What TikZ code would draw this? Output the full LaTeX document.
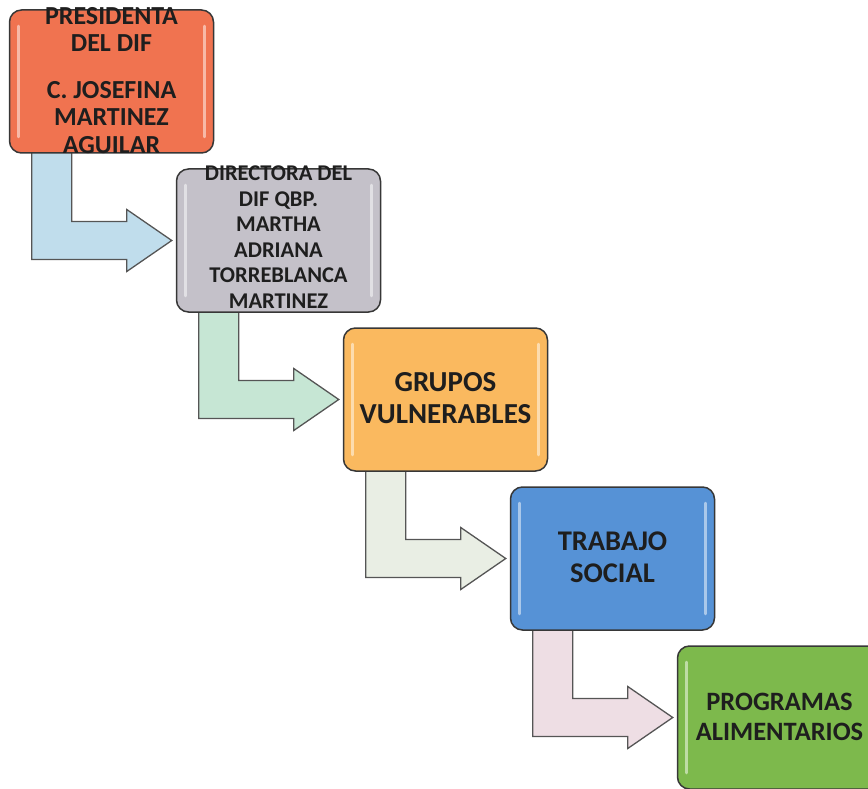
\documentclass[tikz,border=0pt]{standalone}
\usepackage{fontspec}
\setmainfont{Carlito}
\usetikzlibrary{calc}
\usetikzlibrary{backgrounds}

\definecolor{presred}{RGB}{240,115,80}
\definecolor{dirgray}{RGB}{196,193,201}
\definecolor{grupoorange}{RGB}{250,185,95}
\definecolor{trabblue}{RGB}{86,146,214}
\definecolor{proggreen}{RGB}{125,185,76}
\definecolor{arrowblue}{RGB}{192,221,236}
\definecolor{arrowgreen}{RGB}{198,230,212}
\definecolor{arrowgray}{RGB}{233,238,228}
\definecolor{arrowpink}{RGB}{238,222,228}
\definecolor{boxline}{RGB}{55,55,55}
\definecolor{inktext}{RGB}{30,30,30}

\tikzset{
  stepbox/.style={draw=boxline, line width=1.5pt, rounded corners=12pt,
    minimum width=204pt, minimum height=143pt, inner sep=0pt, text=inktext,
    path picture={
      \draw[white, opacity=0.5, line width=2.5pt, line cap=round]
        ([xshift=9pt,yshift=-16pt]path picture bounding box.north west) -- ([xshift=9pt,yshift=16pt]path picture bounding box.south west)
        ([xshift=-9pt,yshift=-16pt]path picture bounding box.north east) -- ([xshift=-9pt,yshift=16pt]path picture bounding box.south east);
    }},
  bentarrow/.style={draw=boxline!85, line width=1.3pt, line join=miter}
}
\newcommand{\boxtxt}[2][-5pt]{\smash{\raisebox{#1}{\parbox[c]{200pt}{\centering #2}}}}

\begin{document}
\begin{tikzpicture}[x=1pt,y=-1pt]
      \def\dx{167}
      \def\dy{159}
      \useasboundingbox (0,0) rectangle (868,789);

      \node[stepbox, fill=presred, font=\bfseries\fontsize{26}{27.5}\selectfont] (pres) at (111.5,81.5)
        {\boxtxt{PRESIDENTA\\DEL DIF\\[19pt]C. JOSEFINA\\MARTINEZ\\AGUILAR}};
      \node[stepbox, fill=dirgray, font=\bfseries\fontsize{22.5}{25.5}\selectfont] (dir) at (111.5+\dx,81.5+\dy)
        {\boxtxt[-2pt]{DIRECTORA DEL\\DIF QBP.\\MARTHA\\ADRIANA\\TORREBLANCA\\MARTINEZ}};
      \node[stepbox, fill=grupoorange, font=\bfseries\fontsize{29}{32}\selectfont] (grupos) at (111.5+2*\dx,81.5+2*\dy)
        {\boxtxt{GRUPOS\\VULNERABLES}};
      \node[stepbox, fill=trabblue, font=\bfseries\fontsize{28.5}{32}\selectfont] (trabajo) at (111.5+3*\dx,81.5+3*\dy)
        {\boxtxt{TRABAJO\\SOCIAL}};
      \node[stepbox, fill=proggreen, font=\bfseries\fontsize{26.5}{30}\selectfont] (prog) at (111.5+4*\dx,81.5+4*\dy)
        {\boxtxt[-6pt]{PROGRAMAS\\ALIMENTARIOS}};

      % bent arrows, behind the boxes
      \begin{scope}[on background layer]
      \foreach \from/\to/\col in {pres/dir/arrowblue, dir/grupos/arrowgreen, grupos/trabajo/arrowgray, trabajo/prog/arrowpink}
        \draw[bentarrow, fill=\col]
          ($(\from.south west)+(23,-3)$) -- ($(\from.south west |- \to.west)+(23,19)$)
          -- ($(\to.west)+(-49,19)$) -- ($(\to.west)+(-49,31)$) -- ($(\to.west)+(-4,0)$)
          -- ($(\to.west)+(-49,-31)$) -- ($(\to.west)+(-49,-19)$)
          -- ($(\from.south west |- \to.west)+(63,-19)$) -- ($(\from.south west)+(63,-3)$) -- cycle;
      \end{scope}

    \end{tikzpicture}
\end{document}
